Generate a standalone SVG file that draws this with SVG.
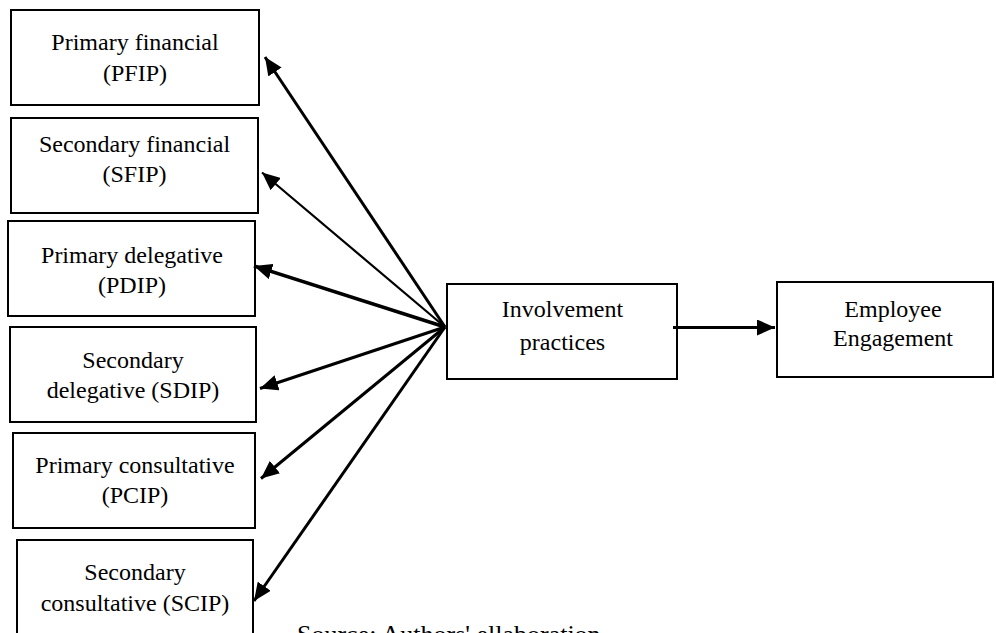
<svg xmlns="http://www.w3.org/2000/svg" width="996" height="633" viewBox="0 0 996 633">
<style>
.box{fill:#fff;stroke:#000;stroke-width:2}
.t{font-family:"Liberation Serif","Times New Roman",serif;font-size:24px;fill:#000;text-anchor:middle}
.src{font-family:"Liberation Serif","Times New Roman",serif;font-size:26px;fill:#000}
.c{stroke:#000;stroke-width:3;fill:none}
</style>
<defs>
<marker id="ah" markerUnits="userSpaceOnUse" markerWidth="20" markerHeight="16" refX="18" refY="8" orient="auto">
<path d="M0,0 L18,8 L0,16 z" fill="#000"/>
</marker>
</defs>
<rect width="996" height="633" fill="#fff"/>
<g id="pfip"><rect class="box" x="11" y="10" width="248" height="95"/><text class="t" x="135" y="50">Primary financial</text><text class="t" x="135" y="81">(PFIP)</text></g>
<g id="sfip"><rect class="box" x="11" y="118" width="247" height="95"/><text class="t" x="134.5" y="152">Secondary financial</text><text class="t" x="134.5" y="182">(SFIP)</text></g>
<g id="pdip"><rect class="box" x="8" y="221" width="247" height="95"/><text class="t" x="132" y="263">Primary delegative</text><text class="t" x="132" y="293">(PDIP)</text></g>
<g id="sdip"><rect class="box" x="10" y="327" width="246" height="95"/><text class="t" x="133" y="368">Secondary</text><text class="t" x="133" y="398">delegative (SDIP)</text></g>
<g id="pcip"><rect class="box" x="13" y="433" width="242" height="95"/><text class="t" x="135" y="473">Primary consultative</text><text class="t" x="135" y="503">(PCIP)</text></g>
<g id="scip"><rect class="box" x="17" y="540" width="236" height="110"/><text class="t" x="135" y="580">Secondary</text><text class="t" x="135" y="611">consultative (SCIP)</text></g>
<g id="involvement"><rect class="box" x="447" y="284" width="230" height="95"/><text class="t" x="562.5" y="317">Involvement</text><text class="t" x="562.5" y="350">practices</text></g>
<g id="engagement"><rect class="box" x="777" y="282" width="216" height="95"/><text class="t" x="893" y="317">Employee</text><text class="t" x="893" y="346">Engagement</text></g>
<g id="connectors">
<line class="c" x1="445" y1="327" x2="265" y2="57" marker-end="url(#ah)"/>
<line class="c" x1="445" y1="327" x2="262" y2="172.5" style="stroke-width:2.2" marker-end="url(#ah)"/>
<line class="c" x1="445" y1="327" x2="254" y2="266" style="stroke-width:3.5" marker-end="url(#ah)"/>
<line class="c" x1="445" y1="327" x2="260" y2="388.5" marker-end="url(#ah)"/>
<line class="c" x1="445" y1="327" x2="261" y2="478.5" marker-end="url(#ah)"/>
<line class="c" x1="445" y1="327" x2="254" y2="601" marker-end="url(#ah)"/>
<line class="c" x1="673" y1="327.5" x2="775" y2="327.5" marker-end="url(#ah)"/>
</g>
<text class="src" x="297" y="643">Source: Authors' ellaboration</text>
</svg>
